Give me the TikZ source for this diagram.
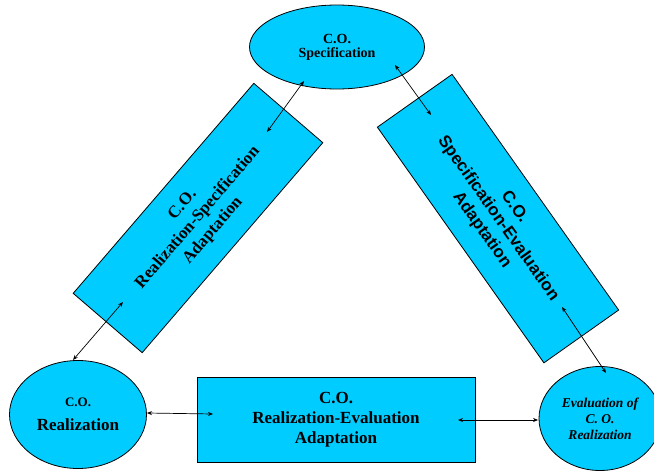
\documentclass[tikz,border=0pt]{standalone}
\usepackage{fontspec}
\setmainfont{Liberation Serif}
\newfontfamily\sansbold{Liberation Sans}
\usetikzlibrary{shapes.geometric,arrows.meta}
\definecolor{boxcyan}{RGB}{0,204,255}
\begin{document}
\begin{tikzpicture}[x=1pt,y=-1pt,
  shapefill/.style={fill=boxcyan,draw=black,line width=0.8pt,inner sep=0pt,align=center},
  oval/.style={shapefill,ellipse},
  panel/.style={shapefill,rectangle},
  bigtext/.style={font=\bfseries\fontsize{17}{20}\selectfont},
  biarrow/.style={line width=0.7pt,{Stealth[length=5pt,width=4pt]}-{Stealth[length=5pt,width=4pt]}}]
\useasboundingbox (0,0) rectangle (654,471);
\fill[white] (0,0) rectangle (654,471);

% the three objects
\node[oval,minimum width=175pt,minimum height=84pt,
      font=\bfseries\fontsize{14}{14}\selectfont] (spec) at (337,47) {C.O.\\Specification};
\node[oval,minimum width=137pt,minimum height=108pt,bigtext] (real) at (78,414.5)
      {{\fontsize{13}{13}\selectfont C.O.}\\[4pt]Realization};
\node[oval,minimum width=122pt,minimum height=104pt,
      font=\bfseries\itshape\fontsize{13.5}{16}\selectfont] (eval) at (600,418.5)
      {Evaluation of\\C. O.\\Realization};

% the three adaptations
\node[panel,minimum width=277pt,minimum height=91pt,rotate=49.3,bigtext] (rsa) at (198,218)
      {C.O.\\Realization-Specification\\Adaptation};
\node[panel,minimum width=288.6pt,minimum height=91.5pt,rotate=-54.75,
      font=\sansbold\bfseries\fontsize{17}{20}\selectfont] (sea) at (498,218.6)
      {C.O.\\Specification-Evaluation\\Adaptation};
\node[panel,minimum width=278pt,minimum height=85pt,bigtext] (rea) at (336,419.5)
      {C.O.\\Realization-Evaluation\\Adaptation};

% connector ends
\coordinate (specL) at (304,81);
\coordinate (rsaT) at (267,132);
\coordinate (specR) at (395,65);
\coordinate (seaT) at (431,115);
\coordinate (rsaB) at (123,302);
\coordinate (realT) at (73,360);
\coordinate (seaB) at (562,307);
\coordinate (evalT) at (606,373);
\coordinate (realR) at (147,413);
\coordinate (reaL) at (213,414);
\coordinate (reaR) at (458,420);
\coordinate (evalL) at (538,420);

\draw[biarrow] (specL) -- (rsaT);
\draw[biarrow] (specR) -- (seaT);
\draw[biarrow] (rsaB) -- (realT);
\draw[biarrow] (seaB) -- (evalT);
\draw[biarrow] (realR) -- (reaL);
\draw[biarrow] (reaR) -- (evalL);
\end{tikzpicture}
\end{document}
